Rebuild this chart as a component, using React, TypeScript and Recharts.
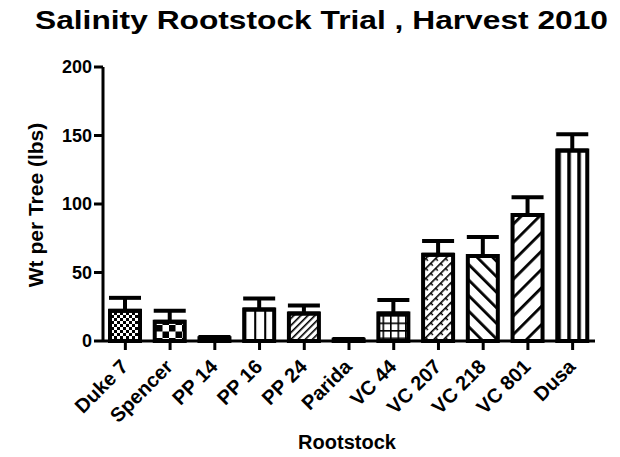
import React from 'react';
import { BarChart, Bar, XAxis, YAxis, ErrorBar, Cell } from 'recharts';

const categories = ['Duke 7', 'Spencer', 'PP 14', 'PP 16', 'PP 24', 'Parida', 'VC 44', 'VC 207', 'VC 218', 'VC 801', 'Dusa'];
const means = [22, 14, 2, 23, 20, 1, 20, 63, 62, 92, 139];
const sems = [9.5, 8, 1, 8, 6, 0.5, 10, 10, 14, 13, 12];
const yTicks = [0, 50, 100, 150, 200];
const patterns = ['pCheckFine', 'pCheckLarge', 'pSolid', 'pVert', 'pDiagFine', 'pSolid', 'pGrid', 'pCross', 'pBack', 'pFwd', 'pVertThick'];

const data = categories.map((name, i) => ({ name, mean: means[i], err: [0, sems[i]] }));

const FONT = '"Liberation Sans", Arial, sans-serif';

const XTick = (props: any) => {
  const { x, y, payload } = props;
  return (
    <g transform={`translate(${x + 4},${y + 16})`}>
      <text
        transform="rotate(-45)"
        textAnchor="end"
        fontFamily={FONT}
        fontWeight="bold"
        fontSize={20}
        fill="#000"
      >
        {payload.value}
      </text>
    </g>
  );
};

export default function App() {
  return (
    <div style={{ position: 'absolute', left: 0, top: 0, background: '#fff' }}>
      <BarChart
        width={620}
        height={457}
        data={data}
        margin={{ top: 67, right: 25, bottom: 0, left: 0 }}
        barCategoryGap={0}
      >
        <defs>
          <pattern id="pCheckFine" patternUnits="userSpaceOnUse" width="6" height="6">
            <rect width="6" height="6" fill="#fff" />
            <rect x="0" y="0" width="3" height="3" fill="#000" />
            <rect x="3" y="3" width="3" height="3" fill="#000" />
          </pattern>
          <pattern id="pCheckLarge" patternUnits="userSpaceOnUse" width="13" height="13">
            <rect width="13" height="13" fill="#fff" />
            <rect x="0" y="0" width="6.5" height="6.5" fill="#000" />
            <rect x="6.5" y="6.5" width="6.5" height="6.5" fill="#000" />
          </pattern>
          <pattern id="pSolid" patternUnits="userSpaceOnUse" width="4" height="4">
            <rect width="4" height="4" fill="#000" />
          </pattern>
          <pattern id="pVert" patternUnits="objectBoundingBox" patternContentUnits="objectBoundingBox" width="0.3333" height="1">
            <rect width="0.3333" height="1" fill="#fff" />
            <rect x="0" y="0" width="0.07" height="1" fill="#000" />
          </pattern>
          <pattern id="pVertThick" patternUnits="objectBoundingBox" patternContentUnits="objectBoundingBox" width="0.3333" height="1">
            <rect width="0.3333" height="1" fill="#fff" />
            <rect x="0" y="0" width="0.12" height="1" fill="#000" />
          </pattern>
          <pattern id="pDiagFine" patternUnits="userSpaceOnUse" width="5" height="5" patternTransform="rotate(45)">
            <rect width="5" height="5" fill="#fff" />
            <rect x="0" y="0" width="1.6" height="5" fill="#000" />
          </pattern>
          <pattern id="pGrid" patternUnits="userSpaceOnUse" width="7.5" height="7.5">
            <rect width="7.5" height="7.5" fill="#fff" />
            <rect x="0" y="0" width="1.6" height="7.5" fill="#000" />
            <rect x="0" y="0" width="7.5" height="1.6" fill="#000" />
          </pattern>
          <pattern id="pCross" patternUnits="userSpaceOnUse" width="7" height="7" patternTransform="rotate(45)">
            <rect width="7" height="7" fill="#fff" />
            <rect x="0" y="0" width="1.6" height="7" fill="#000" />
            <rect x="0" y="0" width="4" height="1.4" fill="#000" />
          </pattern>
          <pattern id="pBack" patternUnits="userSpaceOnUse" width="11" height="11" patternTransform="rotate(-45)">
            <rect width="11" height="11" fill="#fff" />
            <rect x="0" y="0" width="2.8" height="11" fill="#000" />
          </pattern>
          <pattern id="pFwd" patternUnits="userSpaceOnUse" width="13" height="13" patternTransform="rotate(45)">
            <rect width="13" height="13" fill="#fff" />
            <rect x="0" y="0" width="2.8" height="13" fill="#000" />
          </pattern>
        </defs>
        <text
          x={35}
          y={29}
          textLength={573}
          lengthAdjust="spacingAndGlyphs"
          fontFamily={FONT}
          fontWeight="bold"
          fontSize={25}
          fill="#000"
        >
          Salinity Rootstock Trial , Harvest 2010
        </text>
        <text
          x={43}
          y={205}
          transform="rotate(-90, 43, 205)"
          textAnchor="middle"
          fontFamily={FONT}
          fontWeight="bold"
          fontSize={21}
          fill="#000"
        >
          Wt per Tree (lbs)
        </text>
        <text x={347} y={449} textAnchor="middle" fontFamily={FONT} fontWeight="bold" fontSize={20} fill="#000">
          Rootstock
        </text>
        <XAxis
          dataKey="name"
          interval={0}
          height={116}
          axisLine={{ stroke: '#000', strokeWidth: 3 }}
          tickLine={{ stroke: '#000', strokeWidth: 3 }}
          tickSize={9}
          tick={<XTick />}
        />
        <YAxis
          width={103}
          domain={[0, 200]}
          ticks={yTicks}
          interval={0}
          axisLine={{ stroke: '#000', strokeWidth: 3 }}
          tickLine={{ stroke: '#000', strokeWidth: 3 }}
          tickSize={9}
          tick={{ fill: '#000', fontFamily: FONT, fontWeight: 'bold', fontSize: 18 }}
        />
        <Bar dataKey="mean" barSize={30} stroke="#000" strokeWidth={4} isAnimationActive={false}>
          {data.map((d, i) => (
            <Cell key={d.name} fill={`url(#${patterns[i]})`} />
          ))}
          <ErrorBar dataKey="err" direction="y" width={16} stroke="#000" strokeWidth={4} isAnimationActive={false} />
        </Bar>
      </BarChart>
    </div>
  );
}
